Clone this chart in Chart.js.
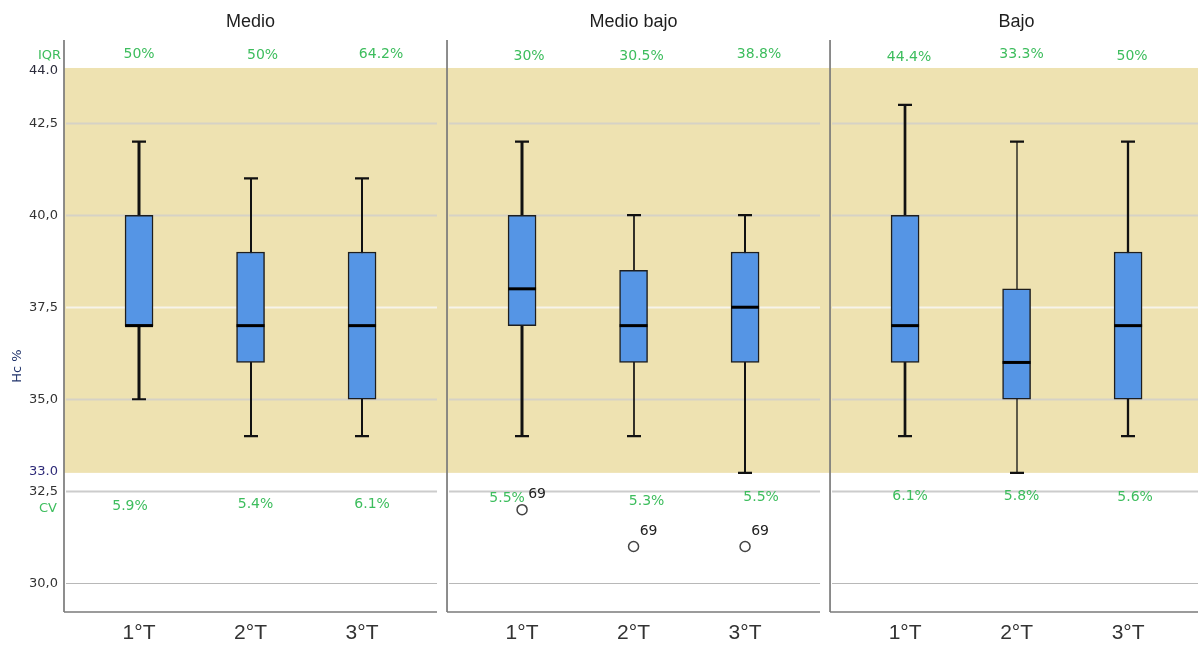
<!DOCTYPE html>
<html>
<head>
<meta charset="utf-8">
<title>Hc % por trimestre y nivel</title>
<script src="https://cdn.jsdelivr.net/npm/chart.js@4/dist/chart.umd.min.js"></script>
<style>
  html, body { margin: 0; padding: 0; background: #ffffff; }
  #wrap { width: 1198px; height: 645px; }
</style>
</head>
<body>
<div id="wrap"><canvas id="chart" width="1198" height="645"></canvas></div>
<script>
// Groups (panels) and periods (categories inside each panel)
const groups = ['Medio', 'Medio bajo', 'Bajo'];
const periods = ['1°T', '2°T', '3°T'];

// Box statistics, ordered group by group, period by period
const whiskerLow  = [35, 34, 34,   34, 34, 33,     34, 33, 34];
const quartile1   = [37, 36, 35,   37, 36, 36,     36, 35, 35];
const median      = [37, 37, 37,   38, 37, 37.5,   37, 36, 37];
const quartile3   = [40, 39, 39,   40, 38.5, 39,   40, 38, 39];
const whiskerHigh = [42, 41, 41,   42, 40, 40,     43, 42, 42];

// Outliers (value and case number), null where none
const outlierValue = [null, null, null,   32, 31, 31,        null, null, null];
const outlierCase  = ['', '', '',         '69', '69', '69',  '', '', ''];

// Annotation texts
const iqrLabels = ['50%', '50%', '64.2%',  '30%', '30.5%', '38.8%',  '44.4%', '33.3%', '50%'];
const cvLabels  = ['5.9%', '5.4%', '6.1%', '5.5%', '5.3%', '5.5%',   '6.1%', '5.8%', '5.6%'];

// Reference range band and axis ticks
const refLow = 33.0;
const refHigh = 44.0;
const yTicks = [30, 32.5, 35, 37.5, 40, 42.5];

// ---- layout / style ----
const PANEL_SPAN = 3.435;   // x-units per panel
const FIRST_OFFSET = 0.673; // first category offset inside a panel
const X_MAX = 10.17;
const Y_MIN = 29.22, Y_MAX = 44.76;
const whiskerWidth = [3, 2, 2,   3, 1.7, 2,   2.7, 1.3, 2.3];
const iqrDx = [0, 12, 19,  7, 8, 14,  4, 5, 4];
const iqrDy = [-14, -13, -14,  -12, -12, -14,  -11, -14, -12];
const cvDx  = [-9, 5, 10,  -15, 13, 16,  5, 5, 7];
const cvDy  = [33, 31, 31,  25, 28, 24,  23, 23, 24];
const GREEN = '#3dbd5d';
const BAND = '#eee2b1';

const positions = whiskerLow.map((_, i) => Math.floor(i / 3) * PANEL_SPAN + FIRST_OFFSET + (i % 3));

const boxData = positions.map((x, i) => ({ x: x, y: [quartile1[i], quartile3[i]] }));
const outlierData = [];
positions.forEach((x, i) => {
  if (outlierValue[i] !== null) outlierData.push({ x: x, y: outlierValue[i], label: outlierCase[i] });
});

const fmtComma = v => v.toFixed(1).replace('.', ',');

const panelPlugin = {
  id: 'panels',
  beforeDatasetsDraw(chart) {
    const { ctx, chartArea: a, scales: { x, y } } = chart;
    ctx.save();
    // reference band
    const bTop = y.getPixelForValue(refHigh);
    const bBot = y.getPixelForValue(refLow);
    ctx.fillStyle = BAND;
    ctx.fillRect(a.left, bTop, a.right - a.left, bBot - bTop);

    // gridlines per panel
    for (let p = 0; p < groups.length; p++) {
      const pl = x.getPixelForValue(p * PANEL_SPAN);
      const pr = x.getPixelForValue((p + 1) * PANEL_SPAN);
      yTicks.forEach(t => {
        const py = Math.round(y.getPixelForValue(t)) + 0.5;
        const inBand = t >= refLow && t <= refHigh;
        ctx.strokeStyle = t === 37.5 ? '#f6f3ea' : (inBand ? '#d6d2c6' : (t === 30 ? '#b8b8b8' : '#cccccc'));
        ctx.lineWidth = t === 30 ? 1 : 2;
        ctx.beginPath();
        ctx.moveTo(pl + 2, py);
        ctx.lineTo(pr - 10, py);
        ctx.stroke();
      });
      // bottom axis of the panel
      ctx.strokeStyle = '#7a7a7a';
      ctx.lineWidth = 1.7;
      ctx.beginPath();
      ctx.moveTo(pl, a.bottom);
      ctx.lineTo(pr - 10, a.bottom);
      ctx.stroke();
      // left edge of the panel
      ctx.beginPath();
      ctx.moveTo(pl, a.top);
      ctx.lineTo(pl, a.bottom);
      ctx.stroke();
    }

    // whiskers and caps
    ctx.strokeStyle = '#111111';
    positions.forEach((pos, i) => {
      const px = Math.round(x.getPixelForValue(pos));
      const yl = y.getPixelForValue(whiskerLow[i]);
      const yh = y.getPixelForValue(whiskerHigh[i]);
      ctx.lineWidth = whiskerWidth[i];
      ctx.beginPath();
      ctx.moveTo(px, yl);
      ctx.lineTo(px, yh);
      ctx.stroke();
      ctx.lineWidth = 2.2;
      ctx.beginPath();
      ctx.moveTo(px - 7, yl); ctx.lineTo(px + 7, yl);
      ctx.moveTo(px - 7, yh); ctx.lineTo(px + 7, yh);
      ctx.stroke();
    });
    ctx.restore();
  },
  afterDatasetsDraw(chart) {
    const { ctx, chartArea: a, scales: { x, y } } = chart;
    ctx.save();
    // medians
    ctx.strokeStyle = '#000000';
    ctx.lineWidth = 3;
    positions.forEach((pos, i) => {
      const px = x.getPixelForValue(pos);
      const py = y.getPixelForValue(median[i]);
      ctx.beginPath();
      ctx.moveTo(px - 14, py);
      ctx.lineTo(px + 14, py);
      ctx.stroke();
    });

    // outlier case numbers
    ctx.fillStyle = '#222222';
    ctx.font = '14px "DejaVu Sans"';
    ctx.textAlign = 'center';
    ctx.textBaseline = 'middle';
    outlierData.forEach(o => {
      ctx.fillText(o.label, x.getPixelForValue(o.x) + 15, y.getPixelForValue(o.y) - 15);
    });

    // IQR and CV annotations
    const bTop = y.getPixelForValue(refHigh);
    const bBot = y.getPixelForValue(refLow);
    ctx.fillStyle = GREEN;
    ctx.font = '14px "DejaVu Sans"';
    positions.forEach((pos, i) => {
      const px = x.getPixelForValue(pos);
      ctx.fillText(iqrLabels[i], px + iqrDx[i], bTop + iqrDy[i]);
      ctx.fillText(cvLabels[i], px + cvDx[i], bBot + cvDy[i]);
    });

    // side labels of the value axis
    ctx.textAlign = 'right';
    ctx.font = '13px "DejaVu Sans"';
    ctx.fillStyle = GREEN;
    ctx.fillText('IQR', 61, bTop - 12);
    ctx.fillText('CV', 57, bBot + 36);
    ctx.fillStyle = '#2b2b3b';
    ctx.fillText(refHigh.toFixed(1), 58, bTop + 3);
    ctx.fillStyle = '#2e2a78';
    ctx.fillText(refLow.toFixed(1), 58, bBot - 1);

    // axis title
    ctx.save();
    ctx.translate(18, 366);
    ctx.rotate(-Math.PI / 2);
    ctx.textAlign = 'center';
    ctx.fillStyle = '#20336b';
    ctx.font = '13px "DejaVu Sans"';
    ctx.fillText('Hc %', 0, 0);
    ctx.restore();

    // panel titles
    ctx.fillStyle = '#1e1e1e';
    ctx.font = '18px "Liberation Sans"';
    ctx.textAlign = 'center';
    groups.forEach((g, p) => {
      const cx = x.getPixelForValue(p * PANEL_SPAN + FIRST_OFFSET + 1);
      ctx.fillText(g, cx, 22);
    });
    ctx.restore();
  }
};

new Chart(document.getElementById('chart'), {
  type: 'bar',
  data: {
    datasets: [
      {
        type: 'bar',
        data: boxData,
        backgroundColor: '#5595e5',
        borderColor: '#1e1e1e',
        borderWidth: 1.5,
        borderSkipped: false,
        barThickness: 28,
        order: 2
      },
      {
        type: 'scatter',
        data: outlierData,
        pointStyle: 'circle',
        pointRadius: 5,
        pointBorderWidth: 1.5,
        pointBackgroundColor: '#ffffff',
        pointBorderColor: '#444444',
        order: 1
      }
    ]
  },
  options: {
    responsive: false,
    animation: false,
    devicePixelRatio: 1,
    layout: { autoPadding: false, padding: { top: 40, left: 0, right: 0, bottom: 0 } },
    plugins: { legend: { display: false }, tooltip: { enabled: false } },
    scales: {
      x: {
        type: 'linear',
        min: 0,
        max: X_MAX,
        offset: false,
        grid: { display: false, drawTicks: false },
        border: { display: false },
        afterBuildTicks: s => { s.ticks = positions.map(v => ({ value: v })); },
        afterFit: s => { s.height = 33; s.paddingLeft = 0; s.paddingRight = 0; },
        ticks: {
          autoSkip: false,
          maxRotation: 0,
          minRotation: 0,
          padding: 9,
          color: '#333333',
          font: { family: 'Liberation Sans', size: 21 },
          callback: (v, i) => periods[i % periods.length]
        }
      },
      y: {
        type: 'linear',
        min: Y_MIN,
        max: Y_MAX,
        grid: { display: false, drawTicks: false },
        border: { display: false },
        afterBuildTicks: s => { s.ticks = yTicks.map(v => ({ value: v })); },
        afterFit: s => { s.width = 64; s.paddingTop = 0; s.paddingBottom = 0; },
        ticks: {
          padding: 6,
          color: '#333333',
          font: { family: 'DejaVu Sans', size: 13 },
          callback: v => fmtComma(v)
        }
      }
    }
  },
  plugins: [panelPlugin]
});
</script>
</body>
</html>
